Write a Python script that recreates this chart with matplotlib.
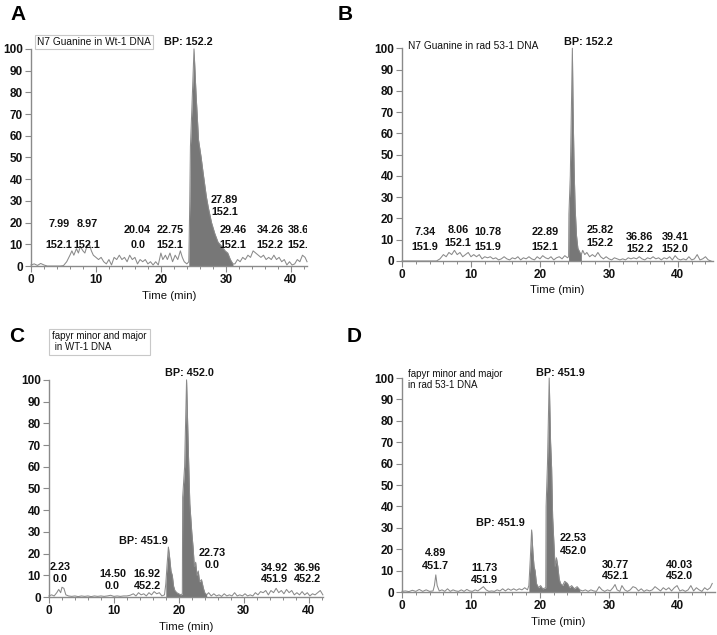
import numpy as np
import matplotlib
matplotlib.use("Agg")
import matplotlib.pyplot as plt
from matplotlib.ticker import MultipleLocator

# ---- panel A: N7 Guanine in Wt-1 DNA ----
a_t = [0, 0.5, 1, 1.5, 2, 2.5, 3, 3.5, 4, 4.5, 5, 5.5, 6, 6.3, 6.6, 7, 7.3, 7.6, 8, 8.3,
       8.6, 9, 9.3, 9.6, 10, 10.4, 10.8, 11.2, 11.6, 12, 12.4, 12.8, 13.2, 13.6, 14, 14.4, 14.8,
       15.2, 15.6, 16, 16.4, 16.8, 17.2, 17.6, 18, 18.4, 18.8, 19.2, 19.6, 20, 20.3, 20.7, 21,
       21.4, 21.8, 22.2, 22.6, 23, 23.3, 23.6, 24, 24.3, 24.45, 24.55, 24.8, 25.1, 25.4, 25.8,
       26.2, 26.5, 27.0, 27.3, 27.8, 28.3, 28.8, 29.4, 29.9, 30.3, 30.7, 31.1, 31.4, 31.8,
       32.2, 32.6, 33, 33.4, 33.8, 34.2, 34.6, 35, 35.4, 35.8, 36.2, 36.6, 37, 37.4, 37.8, 38.2,
       38.6, 39, 39.4, 39.8, 40.2, 40.6, 41, 41.4, 41.8, 42.2, 42.5]
a_y = [0.5, 1, 0.3, 1.2, 0.5, 0, 0, 0, 0, 0, 0.2, 2, 5, 7, 5, 8, 6, 9, 7, 6,
       9, 10, 7, 5, 4, 3, 4, 2, 1, 3, 0.5, 4, 3, 5, 3, 4, 2,
       5, 3, 4, 1, 3, 2, 3, 1, 2, 0.5, 2, 0.5, 6, 3, 5, 3,
       6, 2, 5, 3, 7, 4, 2, 1, 2, 30, 55, 75, 100, 80, 58,
       50, 43, 32, 27, 20, 15, 11, 9, 7, 6, 3, 1, 1, 3,
       2, 4, 3, 5, 4, 7, 6, 5, 4, 5, 3, 4, 3, 5, 3, 4,
       2, 3, 0.5, 2, 0.5, 1, 3, 2, 5, 4, 2]
a_fill = (24.3, 31.1)
a_labels = [("7.99", 4.3, 19.4), ("152.1", 4.3, 9.7), ("8.97", 8.6, 19.4), ("152.1", 8.6, 9.7),
            ("20.04", 16.3, 16.6), ("0.0", 16.5, 9.7), ("22.75", 21.4, 16.6), ("152.1", 21.4, 9.7),
            ("27.89", 29.8, 30.4), ("152.1", 29.8, 24.9), ("29.46", 31.1, 16.6), ("152.1", 31.1, 9.7),
            ("34.26", 36.8, 16.6), ("152.2", 36.8, 9.7)]

# ---- panel B: N7 Guanine in rad 53-1 DNA ----
b_t = [0, 1, 2, 3, 4, 5, 5.5, 6, 6.4, 6.8, 7.2, 7.6, 8, 8.4, 8.8, 9.2, 9.6, 10, 10.4, 10.8,
       11.2, 11.6, 12, 12.4, 12.8, 13.2, 13.6, 14, 14.4, 14.8, 15.2, 15.6, 16, 16.4, 16.8, 17.2,
       17.6, 18, 18.4, 18.8, 19.2, 19.6, 20, 20.4, 20.8, 21.2, 21.6, 22, 22.4, 22.8, 23.2, 23.6,
       24, 24.15, 24.2, 24.4, 24.6, 24.7, 24.8, 24.95, 25.1, 25.3, 25.5, 25.8, 26.0, 26.2, 26.5,
       26.8, 27.2, 27.6, 28, 28.4, 28.8, 29.2, 29.6, 30, 30.4, 30.8, 31.2, 31.6, 32, 32.4, 32.8,
       33.2, 33.6, 34, 34.4, 34.8, 35.2, 35.6, 36, 36.4, 36.8, 37.2, 37.6, 38, 38.4, 38.8, 39.2,
       39.6, 40, 40.4, 40.8, 41.2, 41.6, 42, 42.4, 42.8, 43.2, 43.6, 44, 44.4, 44.8]
b_y = [0, 0, 0, 0, 0, 0, 1, 3, 2, 4, 3, 5, 3, 4, 2, 3, 4, 2, 3, 2,
       3, 1, 2, 1.5, 2, 1, 1.5, 0.5, 1, 2, 1, 0.5, 1.5, 1, 2, 0.5,
       1.5, 1, 2, 1, 0.5, 2, 1, 2.5, 1.5, 1, 2, 0.5, 1.5, 2, 1, 2.5,
       1.5, 2, 22, 40, 80, 100, 72, 44, 25, 12, 6, 4, 3, 5, 3,
       4, 2, 3, 2, 4, 2, 1, 2, 1, 0.5, 1.5, 1, 0.5, 1, 0.5, 1.5,
       1, 1.5, 1, 2, 1, 0.5, 1.5, 1, 2, 1, 1.5, 0.5, 1.5, 1, 2, 0.5,
       2.5, 1, 0.5, 1, 0.5, 2, 0.5, 1, 3, 0.5, 1, 2, 0.5, 0]
b_fill = (24.15, 26.0)
b_labels = [("7.34", 3.3, 13.6), ("151.9", 3.3, 6.6), ("8.06", 8.1, 14.6), ("152.1", 8.1, 8.5),
            ("10.78", 12.5, 13.6), ("151.9", 12.5, 6.6), ("22.89", 20.7, 13.6), ("152.1", 20.7, 6.6),
            ("25.82", 28.7, 14.6), ("152.2", 28.7, 8.5), ("36.86", 34.5, 11.3), ("152.2", 34.5, 5.6),
            ("39.41", 39.6, 11.3), ("152.0", 39.6, 5.6)]

# ---- panel C: fapyr minor and major in WT-1 DNA ----
c_t = [0, 0.4, 0.8, 1.2, 1.5, 1.8, 2.0, 2.3, 2.6, 3, 3.5, 4, 4.5, 5, 5.5, 6, 6.5, 7, 7.5, 8,
       8.5, 9, 9.5, 10, 10.5, 11, 11.5, 12, 12.5, 13, 13.4, 13.8, 14.2, 14.6, 15, 15.4, 15.8,
       16.2, 16.6, 17, 17.4, 17.8, 18.0, 18.2, 18.4, 18.6, 18.8, 19.0, 19.2, 19.4, 19.7, 20,
       20.3, 20.55, 20.6, 20.9, 21.0, 21.2, 21.45, 21.7, 22.0, 22.2, 22.4, 22.6, 22.8, 23.0,
       23.2, 23.5, 23.8, 24.0, 24.3, 24.6, 25, 25.4, 25.8, 26.2, 26.6, 27, 27.4, 27.8,
       28.2, 28.6, 29, 29.4, 29.8, 30.2, 30.6, 31, 31.4, 31.8, 32.2, 32.6, 33, 33.4, 33.8, 34.2,
       34.6, 35, 35.4, 35.8, 36.2, 36.6, 37, 37.4, 37.8, 38.2, 38.6, 39, 39.4, 39.8, 40.2, 40.6,
       41, 41.4, 41.8, 42.2]
c_y = [0.5, 1, 0.5, 2, 3.5, 2, 4.5, 4, 1, 0.5, 0.3, 0.5, 0.2, 0.5, 0.3, 0.5, 0.2, 0.5, 0.3, 0.5,
       0.3, 0.5, 0.8, 0.3, 0.5, 0.3, 0.5, 0.5, 0.8, 1.5, 0.5, 2, 1, 1.5, 0.5, 2, 1,
       2.5, 1.5, 2, 0.5, 1, 6, 15, 23, 18, 12, 10, 5, 3, 2, 1.5,
       1, 1.5, 46, 60, 74, 100, 70, 43, 30, 23, 14, 16, 10, 12,
       7, 8, 4, 2, 1, 2, 0.5, 1.5, 0.5, 1, 0.3, 1.5, 0.5, 1,
       0.5, 2, 0.5, 1, 0.5, 1.5, 0.5, 1, 0.5, 2, 1, 2.5, 2, 3, 1, 3,
       2, 4, 2, 3, 1.5, 3.5, 2, 3, 1, 2, 1, 2.5, 1, 2, 0.5, 1.5,
       1, 2, 3, 1]
c_fill = (17.9, 24.3)
c_labels = [("2.23", 1.7, 13.8), ("0.0", 1.7, 8.3), ("14.50", 9.8, 10.6), ("0.0", 9.8, 5.1),
            ("16.92", 15.1, 10.6), ("452.2", 15.1, 5.1), ("BP: 451.9", 14.5, 25.8),
            ("22.73", 25.2, 20.3), ("0.0", 25.2, 14.7), ("34.92", 34.8, 13.4), ("451.9", 34.8, 8.3),
            ("36.96", 39.8, 13.4), ("452.2", 39.8, 8.3)]

# ---- panel D: fapyr minor and major in rad 53-1 DNA ----
d_t = [0, 0.5, 1, 1.5, 2, 2.5, 3, 3.5, 4, 4.5, 4.7, 4.9, 5.1, 5.4, 5.8, 6.2, 6.6, 7, 7.4, 7.8,
       8.2, 8.6, 9, 9.4, 9.8, 10.2, 10.6, 11, 11.4, 11.8, 12.2, 12.6, 13, 13.4, 13.8, 14.2, 14.6,
       15, 15.4, 15.8, 16.2, 16.6, 17, 17.4, 17.8, 18.2, 18.4, 18.6, 18.8, 19.0, 19.15, 19.3,
       19.5, 19.8, 20.1, 20.4, 20.85, 20.9, 21.1, 21.35, 21.55, 21.7, 21.85, 22.0, 22.2, 22.4,
       22.6, 22.8, 23.0, 23.3, 23.6, 24, 24.3, 24.6, 25, 25.4, 25.8, 26.2, 26.6, 27, 27.4, 27.8,
       28.2, 28.6, 29, 29.4, 29.8, 30.2, 30.6, 30.9, 31.2, 31.6, 31.9, 32.3, 32.7, 33.1, 33.5,
       33.9, 34.3, 34.7, 35.1, 35.5, 35.9, 36.3, 36.7, 37.1, 37.5, 37.9, 38.3, 38.7, 39.1, 39.5,
       39.9, 40.3, 40.7, 41.1, 41.5, 41.9, 42.3, 42.7, 43.1, 43.5, 43.9, 44.3, 44.7, 45]
d_y = [0.3, 0.5, 0.2, 0.8, 0.3, 1.2, 0.3, 1, 0.3, 0.5, 3, 8, 3, 0.5, 1, 0.3, 1.5, 0.3, 1, 0.5,
       0.3, 1, 0.3, 1.2, 0.5, 0.3, 1, 0.5, 1.5, 2.5, 1, 0.3, 0.5, 0.3, 1, 0.5, 1.5,
       0.5, 1.5, 0.8, 1.5, 0.8, 1.5, 1, 2, 1, 3, 15, 29, 18, 12, 10,
       4, 2, 3, 1.5, 2, 40, 60, 100, 70, 58, 35, 25, 12, 16,
       12, 6, 4, 3, 5, 4, 2, 3, 1.5, 2.5, 1, 0.5, 1, 0.3, 1, 0.5,
       0.3, 2.5, 1, 0.3, 1, 0.5, 2, 3.5, 1, 0.3, 3, 1, 0.3, 1, 2.5,
       2, 0.5, 1.5, 0.3, 1, 0.5, 1, 2.5, 1.5, 0.5, 2, 1, 2, 0.5, 2,
       3, 0.5, 1, 0.3, 1, 3, 0.5, 2, 1, 0.3, 2, 1, 2, 4]
d_fill = (18.3, 25.8)
d_labels = [("4.89", 4.9, 18.2), ("451.7", 4.9, 12.1), ("11.73", 12.0, 11.2), ("451.9", 12.0, 5.6),
            ("BP: 451.9", 14.3, 32.2), ("22.53", 24.8, 25.2), ("452.0", 24.8, 19.2),
            ("30.77", 31.0, 12.6), ("452.1", 31.0, 7.5), ("40.03", 40.3, 12.6), ("452.0", 40.3, 7.5)]

GREY = "#8a8a8a"
FILL = "#777777"
TXT = "#111111"
LAB = dict(fontsize=7.8, fontweight="bold", color=TXT)

plt.rcParams["font.family"] = ["Liberation Sans", "DejaVu Sans"]
fig = plt.figure(figsize=(7.17, 6.35), dpi=100)


def panel(rect, t, y, fill, xmax, labels):
    ax = fig.add_axes(rect)
    t = np.array(t)
    y = np.array(y)
    ax.plot(t, y, color=GREY, lw=0.75, clip_on=False)
    m = (t >= fill[0]) & (t <= fill[1])
    ax.fill_between(t, 0, y, where=m, color=FILL, lw=0)
    ax.set_xlim(0, xmax)
    ax.set_ylim(0, 100)
    for s in ["top", "right"]:
        ax.spines[s].set_visible(False)
    for s in ["left", "bottom"]:
        ax.spines[s].set_color(GREY)
        ax.spines[s].set_linewidth(1.0)
    ax.yaxis.set_major_locator(MultipleLocator(10))
    ax.xaxis.set_major_locator(MultipleLocator(10))
    ax.xaxis.set_minor_locator(MultipleLocator(2))
    ax.tick_params(axis="both", which="both", color=GREY, labelcolor=TXT, labelsize=8.5)
    ax.tick_params(axis="both", which="major", length=4, width=0.8, pad=2)
    ax.tick_params(axis="x", which="minor", length=2.5, width=0.7)
    for lb in ax.get_xticklabels() + ax.get_yticklabels():
        lb.set_fontweight("bold")
    ax.set_xlabel("Time (min)", fontsize=8.2, color=TXT, labelpad=3)
    for s, x, yy in labels:
        ax.text(x, yy, s, ha="center", va="center", clip_on=False, **LAB)
    return ax


axA = panel([0.0432, 0.581, 0.385, 0.342], a_t, a_y, a_fill, 42.5, a_labels)
axB = panel([0.5607, 0.589, 0.4338, 0.335], b_t, b_y, b_fill, 45.1, b_labels)
axC = panel([0.0683, 0.0598, 0.382, 0.342], c_t, c_y, c_fill, 42.2, c_labels)
axD = panel([0.5607, 0.0677, 0.4365, 0.337], d_t, d_y, d_fill, 45.4, d_labels)

# clipped label at the right edge of A
axA.text(39.5, 16.6, "38.6", ha="left", va="center", clip_on=True, **LAB)
axA.text(39.5, 9.7, "152.1", ha="left", va="center", clip_on=True, **LAB)

# base peak labels and sample titles
axA.text(24.3, 103.2, "BP: 152.2", ha="center", va="center", clip_on=False, **LAB)
axA.text(0.9, 103.2, "N7 Guanine in Wt-1 DNA", ha="left", va="center", fontsize=7.3, color=TXT,
         clip_on=False, bbox=dict(boxstyle="square,pad=0.2", fc="white", ec="#c8c8c8", lw=0.8))
axB.text(27.0, 102.8, "BP: 152.2", ha="center", va="center", clip_on=False, **LAB)
axB.text(0.9, 101, "N7 Guanine in rad 53-1 DNA", ha="left", va="center", fontsize=7.3, color=TXT,
         clip_on=False)
axC.text(21.7, 103.2, "BP: 452.0", ha="center", va="center", clip_on=False, **LAB)
axC.text(0.5, 117.5, "fapyr minor and major\n in WT-1 DNA", ha="left", va="center", fontsize=7,
         color=TXT, clip_on=False, linespacing=1.1,
         bbox=dict(boxstyle="square,pad=0.3", fc="white", ec="#c8c8c8", lw=0.8))
axD.text(22.9, 102.3, "BP: 451.9", ha="center", va="center", clip_on=False, **LAB)
axD.text(0.9, 99.3, "fapyr minor and major\nin rad 53-1 DNA", ha="left", va="center", fontsize=7,
         color=TXT, clip_on=False, linespacing=1.1)

# panel letters
for s, x, y in [("A", 18, 15), ("B", 345, 15), ("C", 17, 336), ("D", 354, 336)]:
    fig.text(x / 717, 1 - y / 635, s, ha="center", va="center", fontsize=15, fontweight="bold")

fig.savefig("out.png", dpi=100)
